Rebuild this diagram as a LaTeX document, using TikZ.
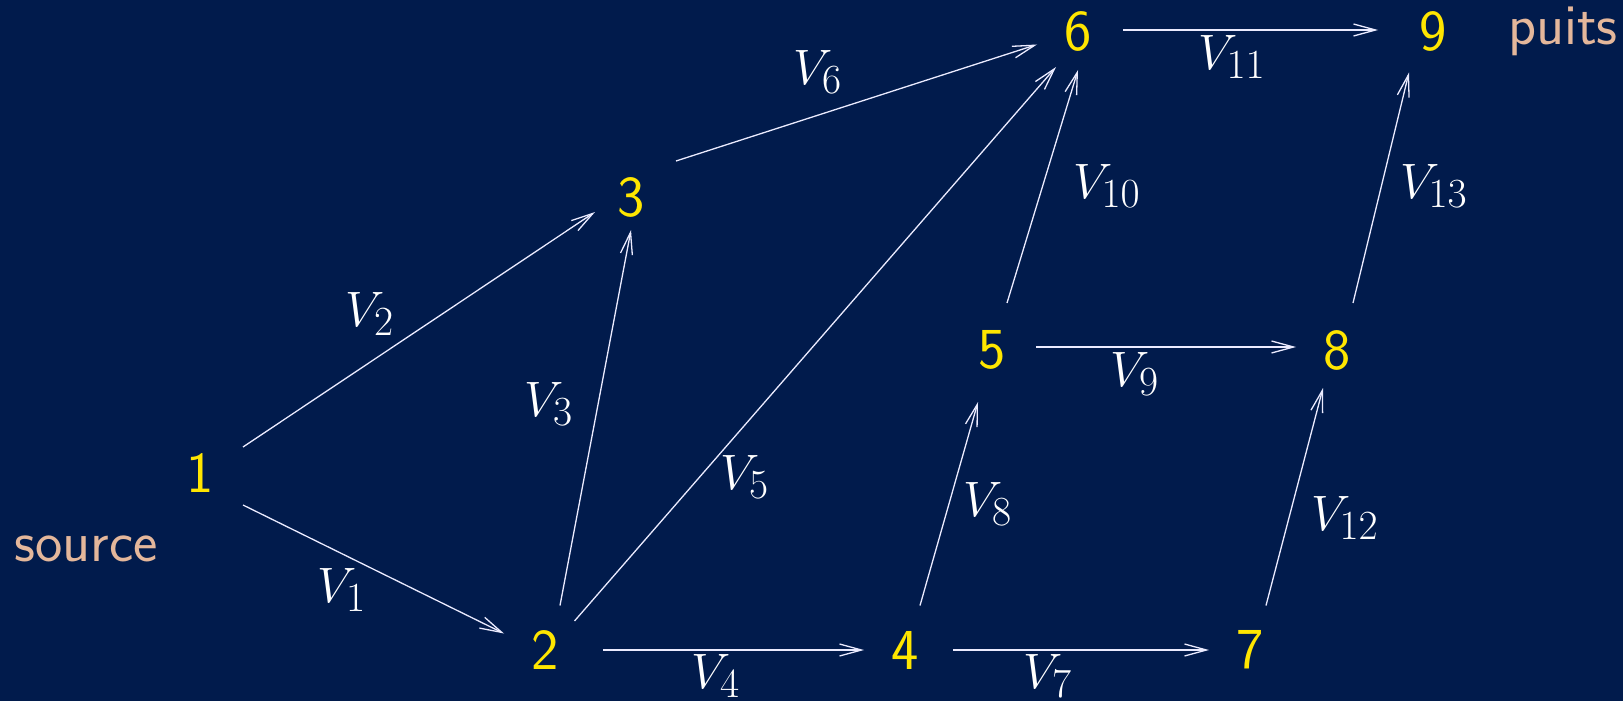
\documentclass[tikz,border=0pt]{standalone}
\usetikzlibrary{arrows.meta,calc}
\definecolor{bgblue}{RGB}{1,27,76}
\definecolor{numyellow}{RGB}{255,230,0}
\definecolor{tan}{RGB}{228,183,155}
\begin{document}
\begin{tikzpicture}[x=0.5pt,y=-0.5pt,
  num/.style={text=numyellow,font=\fontsize{29}{34}\selectfont\sffamily,inner sep=0pt},
  word/.style={text=tan,font=\fontsize{29}{34}\selectfont\sffamily,inner sep=0pt},
  lab/.style={text=white,font=\fontsize{29}{34}\selectfont,inner sep=0pt},
  edge/.style={draw=white!92!blue,line width=0.65pt,-{Straight Barb[length=11pt,width=6pt,line width=0.65pt]}}]
\fill[bgblue] (0,0) rectangle (1623,701);
\useasboundingbox (0,0) rectangle (1623,701);
% vertices
\node[num] (n1) at (200,473) {1};
\node[num] (n2) at (545,650) {2};
\node[num] (n3) at (631,197) {3};
\node[num] (n4) at (905,650) {4};
\node[num] (n5) at (992,350) {5};
\node[num] (n6) at (1078,31) {6};
\node[num] (n7) at (1250,650) {7};
\node[num] (n8) at (1337,350) {8};
\node[num] (n9) at (1433,31) {9};
\node[word] (src) at (86,549) {source};
\node[word] (pts) at (1563,31) {puits};
% edges
\draw[edge] ($(n1.center)+(43,32)$) -- ($(n2.center)+(-41,-16.5)$);
\draw[edge] ($(n1.center)+(43,-26)$) -- ($(n3.center)+(-36,15)$);
\draw[edge] ($(n2.center)+(15,-44.5)$) -- ($(n3.center)+(0,33)$);
\draw[edge] ($(n2.center)+(29.5,-29)$) -- ($(n6.center)+(-22,36)$);
\draw[edge] ($(n2.center)+(58,0)$) -- ($(n4.center)+(-41,0)$);
\draw[edge] ($(n3.center)+(45,-36)$) -- ($(n6.center)+(-41,13.5)$);
\draw[edge] ($(n4.center)+(15,-44.5)$) -- ($(n5.center)+(-14,52)$);
\draw[edge] ($(n4.center)+(48,0)$) -- ($(n7.center)+(-41,0)$);
\draw[edge] ($(n5.center)+(15,-47)$) -- ($(n6.center)+(0,39)$);
\draw[edge] ($(n5.center)+(44,-3)$) -- ($(n8.center)+(-41,-3)$);
\draw[edge] ($(n6.center)+(45,-1)$) -- ($(n9.center)+(-55,-1)$);
\draw[edge] ($(n7.center)+(16,-44.5)$) -- ($(n8.center)+(-14,38)$);
\draw[edge] ($(n8.center)+(16,-47)$) -- ($(n9.center)+(-24,41.5)$);
% labels
\node[lab] (l1) at (342,590) {$V_1$};
\node[lab] (l2) at (370,314) {$V_2$};
\node[lab] (l3) at (549,404) {$V_3$};
\node[lab] (l4) at (716,676) {$V_4$};
\node[lab] (l5) at (745,477) {$V_5$};
\node[lab] (l6) at (818,72) {$V_6$};
\node[lab] (l7) at (1048,676) {$V_7$};
\node[lab] (l8) at (988,504) {$V_8$};
\node[lab] (l9) at (1135,374) {$V_9$};
\node[lab] (l10) at (1107,186) {$V_{10}$};
\node[lab] (l11) at (1232,57) {$V_{11}$};
\node[lab] (l12) at (1345,518) {$V_{12}$};
\node[lab] (l13) at (1434,186) {$V_{13}$};
\end{tikzpicture}
\end{document}
